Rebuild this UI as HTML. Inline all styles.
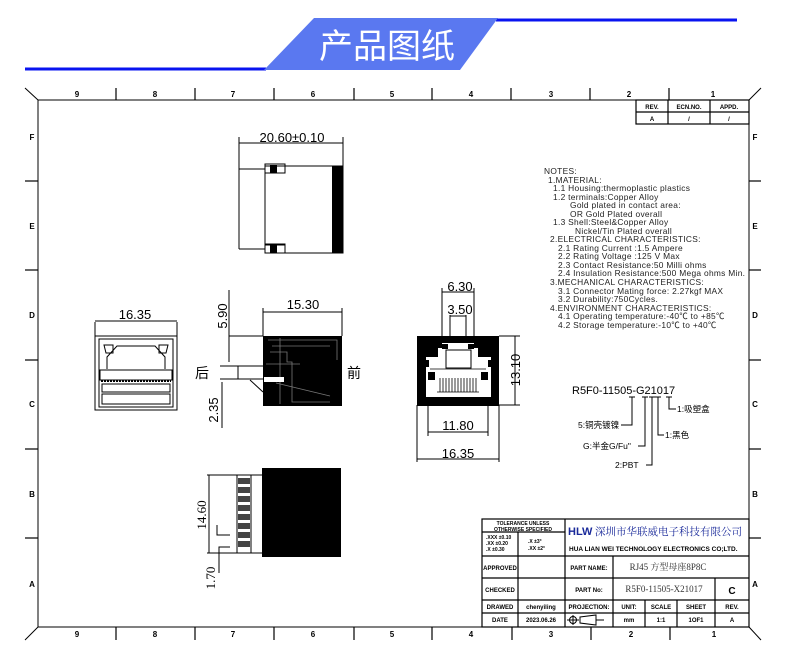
<!DOCTYPE html>
<html><head><meta charset="utf-8">
<style>
html,body{margin:0;padding:0;background:#fff;}
svg{display:block;}
text{font-family:"Liberation Sans","Noto Sans CJK SC",sans-serif;}
.t{font-family:"Liberation Sans",sans-serif;font-weight:bold;}
.cj{font-family:"Liberation Serif","Noto Serif CJK SC",serif;}
</style></head><body>
<svg width="790" height="663" viewBox="0 0 790 663" xmlns="http://www.w3.org/2000/svg">
<!-- header -->
<line x1="25" y1="69" x2="266" y2="69" stroke="#0a14f0" stroke-width="3"/>
<line x1="496" y1="20" x2="737" y2="20" stroke="#0a14f0" stroke-width="3"/>
<polygon points="314,18 498,18 460,70 264,70" fill="#5a78f0"/>
<text x="387" y="58" font-size="34" fill="#fff" text-anchor="middle" font-family="Noto Sans CJK SC,sans-serif">产品图纸</text>

<!-- frame -->
<g stroke="#000" fill="none" stroke-width="1">
<rect x="38" y="100" width="711" height="527"/>
<line x1="25" y1="88" x2="38" y2="100"/>
<line x1="761" y1="88" x2="749" y2="100"/>
<line x1="25" y1="640" x2="38" y2="627"/>
<line x1="761" y1="640" x2="749" y2="627"/>
</g>
<g stroke="#000" stroke-width="1.2">
<line x1="116" y1="88" x2="116" y2="100"/><line x1="195" y1="88" x2="195" y2="100"/>
<line x1="274" y1="88" x2="274" y2="100"/><line x1="354" y1="88" x2="354" y2="100"/>
<line x1="432" y1="88" x2="432" y2="100"/><line x1="511" y1="88" x2="511" y2="100"/>
<line x1="590" y1="88" x2="590" y2="100"/><line x1="669" y1="88" x2="669" y2="100"/>
<line x1="116" y1="627" x2="116" y2="640"/><line x1="195" y1="627" x2="195" y2="640"/>
<line x1="274" y1="627" x2="274" y2="640"/><line x1="354" y1="627" x2="354" y2="640"/>
<line x1="432" y1="627" x2="432" y2="640"/><line x1="512" y1="627" x2="512" y2="640"/>
<line x1="591" y1="627" x2="591" y2="640"/><line x1="670" y1="627" x2="670" y2="640"/>
<line x1="25" y1="181" x2="38" y2="181"/><line x1="25" y1="270" x2="38" y2="270"/>
<line x1="25" y1="360" x2="38" y2="360"/><line x1="25" y1="449" x2="38" y2="449"/>
<line x1="25" y1="538" x2="38" y2="538"/>
<line x1="749" y1="181" x2="761" y2="181"/><line x1="749" y1="270" x2="761" y2="270"/>
<line x1="749" y1="360" x2="761" y2="360"/><line x1="749" y1="449" x2="761" y2="449"/>
<line x1="749" y1="538" x2="761" y2="538"/>
</g>
<g class="t" font-size="8" text-anchor="middle">
<text x="77" y="97">9</text><text x="155" y="97">8</text><text x="233" y="97">7</text><text x="313" y="97">6</text><text x="392" y="97">5</text><text x="471" y="97">4</text><text x="551" y="97">3</text><text x="629" y="97">2</text><text x="713" y="97">1</text>
<text x="77" y="637">9</text><text x="155" y="637">8</text><text x="233" y="637">7</text><text x="313" y="637">6</text><text x="392" y="637">5</text><text x="471" y="637">4</text><text x="551" y="637">3</text><text x="631" y="637">2</text><text x="714" y="637">1</text>
<text x="32" y="140">F</text><text x="32" y="229">E</text><text x="32" y="318">D</text><text x="32" y="407">C</text><text x="32" y="497">B</text><text x="32" y="587">A</text>
<text x="755" y="140">F</text><text x="755" y="229">E</text><text x="755" y="318">D</text><text x="755" y="407">C</text><text x="755" y="497">B</text><text x="755" y="587">A</text>
</g>
<!-- rev table -->
<g stroke="#000" fill="none" stroke-width="1.2">
<rect x="636" y="100" width="113" height="24"/>
<line x1="636" y1="112" x2="749" y2="112"/>
<line x1="668" y1="100" x2="668" y2="124"/><line x1="710" y1="100" x2="710" y2="124"/>
</g>
<g class="t" font-size="6" text-anchor="middle">
<text x="652" y="109">REV.</text><text x="689" y="109">ECN.NO.</text><text x="729" y="109">APPD.</text>
<text x="652" y="121">A</text><text x="689" y="121">/</text><text x="729" y="121">/</text>
</g>

<!-- top view -->
<g stroke="#000" fill="none" stroke-width="1">
<line x1="239" y1="137" x2="239" y2="170"/><line x1="343" y1="137" x2="343" y2="166"/>
<line x1="239" y1="143" x2="343" y2="143"/>
<line x1="239" y1="169" x2="265" y2="169"/><line x1="239" y1="249" x2="265" y2="249"/>
<line x1="239" y1="169" x2="239" y2="249"/>
<rect x="265" y="166" width="78" height="87"/>
<line x1="265" y1="173" x2="285" y2="173"/><line x1="265" y1="245" x2="285" y2="245"/>
<rect x="265" y="164" width="20" height="9"/><rect x="265" y="244" width="20" height="9"/>
</g>
<rect x="332" y="166" width="11" height="87" fill="#000"/>
<rect x="270" y="165" width="7" height="8" fill="#000"/><rect x="270" y="245" width="7" height="8" fill="#000"/>
<text x="292" y="142" font-size="13" text-anchor="middle">20.60±0.10</text>

<!-- left view -->
<g stroke="#000" fill="none" stroke-width="1">
<line x1="95" y1="322" x2="95" y2="336"/><line x1="177" y1="322" x2="177" y2="336"/>
<line x1="95" y1="321" x2="177" y2="321"/>
<rect x="95" y="336" width="82" height="74"/>
<rect x="99" y="339" width="74" height="68"/>
<polygon points="104,345 113,345 113,353 106,353"/>
<polygon points="168,345 159,345 159,353 166,353"/>
<polyline points="107,369 107,357 117,346 155,346 165,357 165,369"/>
<rect x="100" y="370" width="72" height="10"/>
<line x1="101" y1="381" x2="171" y2="381" stroke-dasharray="2,1" stroke-width="2"/>
<rect x="102" y="384" width="68" height="8"/>
<rect x="102" y="394" width="68" height="10"/>
</g>
<text x="135" y="319" font-size="13" text-anchor="middle">16.35</text>

<!-- side view -->
<g stroke="#000" fill="none" stroke-width="1">
<line x1="263" y1="308" x2="263" y2="336"/><line x1="342" y1="308" x2="342" y2="336"/>
<line x1="263" y1="312" x2="342" y2="312"/>
<line x1="229" y1="290" x2="229" y2="362"/>
<line x1="229" y1="336" x2="263" y2="336"/>
<line x1="220" y1="366" x2="263" y2="366"/><line x1="220" y1="379" x2="263" y2="379"/>
<line x1="238" y1="366" x2="238" y2="379"/>
<line x1="222" y1="382" x2="222" y2="428"/>
<line x1="250" y1="380" x2="263" y2="392"/>
</g>
<rect x="263" y="336" width="79" height="70" fill="#000"/>
<g stroke="#777" fill="none" stroke-width="0.8">
<polyline points="268,340 337,340 337,360"/><polyline points="272,346 330,346"/>
<polyline points="270,352 287,352 287,362 292,362 292,402 330,402"/>
<polyline points="276,383 330,396"/><line x1="266" y1="364" x2="300" y2="364"/>
<line x1="280" y1="338" x2="280" y2="404"/>
</g>
<rect x="264" y="377" width="20" height="5" fill="#fff"/>
<text x="303" y="309" font-size="13" text-anchor="middle">15.30</text>
<text transform="translate(227,316) rotate(-90)" font-size="13" text-anchor="middle">5.90</text>
<text transform="translate(218,410) rotate(-90)" font-size="13" text-anchor="middle">2.35</text>
<text x="202" y="378" font-size="14" text-anchor="middle" font-family="Noto Sans CJK SC,sans-serif">后</text>
<text x="354" y="378" font-size="14" text-anchor="middle" font-family="Noto Sans CJK SC,sans-serif">前</text>

<!-- front view -->
<rect x="417" y="336" width="82" height="70" fill="#000"/>
<g stroke="#000" fill="none" stroke-width="1">
<line x1="442" y1="288" x2="442" y2="336"/><line x1="474" y1="288" x2="474" y2="336"/>
<line x1="442" y1="292" x2="474" y2="292"/>
<line x1="450" y1="315" x2="450" y2="340"/><line x1="466" y1="315" x2="466" y2="340"/>
<line x1="450" y1="316" x2="466" y2="316"/>
<line x1="499" y1="336" x2="520" y2="336"/><line x1="499" y1="405" x2="520" y2="405"/>
<line x1="515" y1="336" x2="515" y2="405"/>
<line x1="428" y1="405" x2="428" y2="436"/><line x1="488" y1="405" x2="488" y2="436"/>
<line x1="428" y1="432" x2="488" y2="432"/>
<line x1="417" y1="405" x2="417" y2="462"/><line x1="499" y1="405" x2="499" y2="462"/>
<line x1="417" y1="459" x2="499" y2="459"/>
</g>
<path d="M442 343 L474 343 L474 348 L478 348 L478 357 L491 357 L491 360 L488 360 L488 367 L491 367 L491 397 L426 397 L426 367 L429 367 L429 360 L426 360 L426 357 L438 357 L438 348 L442 348 Z" fill="#fff"/>
<rect x="446" y="350" width="25" height="18" fill="#fff" stroke="#000" stroke-width="1"/>
<rect x="442" y="344" width="6" height="5" fill="#000"/><rect x="468" y="344" width="6" height="5" fill="#000"/>
<rect x="428" y="372" width="7" height="8" fill="#000"/><rect x="481" y="372" width="7" height="8" fill="#000"/>
<g stroke="#000" stroke-width="0.8">
<line x1="440" y1="378" x2="440" y2="392"/><line x1="443" y1="378" x2="443" y2="392"/><line x1="446" y1="378" x2="446" y2="392"/><line x1="449" y1="378" x2="449" y2="392"/><line x1="452" y1="378" x2="452" y2="392"/><line x1="455" y1="378" x2="455" y2="392"/><line x1="458" y1="378" x2="458" y2="392"/><line x1="461" y1="378" x2="461" y2="392"/><line x1="464" y1="378" x2="464" y2="392"/><line x1="467" y1="378" x2="467" y2="392"/><line x1="470" y1="378" x2="470" y2="392"/><line x1="473" y1="378" x2="473" y2="392"/><line x1="476" y1="378" x2="476" y2="392"/>
<line x1="430" y1="369" x2="486" y2="369"/><line x1="437" y1="392" x2="479" y2="392"/>
</g>
<text x="460" y="291" font-size="13" text-anchor="middle">6.30</text>
<text x="460" y="314" font-size="13" text-anchor="middle">3.50</text>
<text transform="translate(520,370) rotate(-90)" font-size="13" text-anchor="middle">13.10</text>
<text x="458" y="430" font-size="13" text-anchor="middle">11.80</text>
<text x="458" y="458" font-size="13" text-anchor="middle">16.35</text>

<!-- bottom view -->
<rect x="262" y="468" width="79" height="89" fill="#000"/>
<g stroke="#000" fill="none" stroke-width="1">
<line x1="207" y1="475" x2="262" y2="475"/><line x1="207" y1="553" x2="262" y2="553"/>
<line x1="209" y1="475" x2="209" y2="553"/>
<rect x="237" y="475" width="14" height="78"/>
<polyline points="217,525 217,535 230,535"/>
<polyline points="219,573 219,547 230,547"/>
</g>
<g fill="#444">
<rect x="238" y="478" width="12" height="6"/><rect x="238" y="487" width="12" height="6"/><rect x="238" y="496" width="12" height="6"/><rect x="238" y="505" width="12" height="6"/><rect x="238" y="514" width="12" height="6"/><rect x="238" y="523" width="12" height="6"/><rect x="238" y="532" width="12" height="6"/><rect x="238" y="541" width="12" height="6"/>
</g>
<text transform="translate(206,515) rotate(-90)" font-size="13" text-anchor="middle" class="cj">14.60</text>
<text transform="translate(215,578) rotate(-90)" font-size="13" text-anchor="middle" class="cj">1.70</text>

<!-- notes -->
<g font-size="8.4" fill="#222" letter-spacing="0.3">
<text x="544" y="174">NOTES:</text>
<text x="548" y="183">1.MATERIAL:</text>
<text x="553" y="191">1.1  Housing:thermoplastic plastics</text>
<text x="553" y="200">1.2  terminals:Copper Alloy</text>
<text x="570" y="208">Gold plated in contact area:</text>
<text x="570" y="217">OR Gold   Plated overall</text>
<text x="553" y="225">1.3  Shell:Steel&amp;Copper Alloy</text>
<text x="575" y="234">Nickel/Tin Plated overall</text>
<text x="550" y="242">2.ELECTRICAL CHARACTERISTICS:</text>
<text x="558" y="251">2.1  Rating Current :1.5 Ampere</text>
<text x="558" y="259">2.2  Rating Voltage :125 V Max</text>
<text x="558" y="268">2.3  Contact Resistance:50 Milli ohms</text>
<text x="558" y="276">2.4  Insulation Resistance:500 Mega ohms Min.</text>
<text x="550" y="285">3.MECHANICAL CHARACTERISTICS:</text>
<text x="558" y="294">3.1  Connector Mating force: 2.27kgf MAX</text>
<text x="558" y="302">3.2  Durability:750Cycles.</text>
<text x="550" y="311">4.ENVIRONMENT CHARACTERISTICS:</text>
<text x="558" y="319">4.1  Operating temperature:-40℃  to +85℃</text>
<text x="558" y="328">4.2  Storage temperature:-10℃  to +40℃</text>
</g>

<!-- part code -->
<text x="572" y="394" font-size="11">R5F0-11505-G21017</text>
<g stroke="#000" fill="none" stroke-width="1">
<polyline points="632,397 632,425 621,425"/>
<polyline points="645,397 645,446 638,446"/>
<polyline points="652,397 652,465 646,465"/>
<polyline points="658,397 658,435 664,435"/>
<polyline points="669,397 669,409 676,409"/>
<line x1="629" y1="397" x2="635" y2="397"/><line x1="642" y1="397" x2="648" y2="397"/><line x1="649" y1="397" x2="655" y2="397"/><line x1="655" y1="397" x2="661" y2="397"/><line x1="666" y1="397" x2="672" y2="397"/>
</g>
<g font-size="8.5" class="cj">
<text x="677" y="412">1:吸塑盒</text>
<text x="578" y="428">5:铜壳镀镍</text>
<text x="665" y="438">1:黑色</text>
<text x="583" y="449">G:半金G/Fu"</text>
<text x="615" y="468">2:PBT</text>
</g>

<!-- title block -->
<g stroke="#000" fill="none" stroke-width="1.2">
<rect x="482" y="519" width="267" height="108"/>
<line x1="565" y1="519" x2="565" y2="627"/>
<line x1="482" y1="532" x2="565" y2="532"/>
<line x1="518" y1="532" x2="518" y2="627"/>
<line x1="482" y1="556" x2="749" y2="556"/>
<line x1="482" y1="578" x2="749" y2="578"/>
<line x1="482" y1="600" x2="749" y2="600"/>
<line x1="482" y1="613" x2="749" y2="613"/>
<line x1="613" y1="556" x2="613" y2="627"/>
<line x1="715" y1="578" x2="715" y2="627"/>
<line x1="645" y1="600" x2="645" y2="627"/>
<line x1="677" y1="600" x2="677" y2="627"/>
</g>
<g class="t" font-size="5" text-anchor="middle">
<text x="523" y="525">TOLERANCE UNLESS</text>
<text x="523" y="531">OTHERWISE SPECIFIED</text>
</g>
<g class="t" font-size="5">
<text x="486" y="539">.XXX ±0.10</text><text x="486" y="545">.XX  ±0.20</text><text x="486" y="551">.X   ±0.30</text>
<text x="528" y="543">.X    ±3°</text><text x="528" y="550">.XX   ±2°</text>
</g>
<text x="568" y="535" font-size="11" font-weight="bold" fill="#1a2a9a" font-family="Liberation Sans,sans-serif">HLW</text>
<text x="595" y="535" font-size="10.5" fill="#1a2a9a" class="cj">深圳市华联威电子科技有限公司</text>
<text x="569" y="551" class="t" font-size="6.5">HUA LIAN WEI TECHNOLOGY ELECTRONICS CO;LTD.</text>
<g class="t" font-size="6" text-anchor="middle">
<text x="500" y="570">APPROVED</text><text x="589" y="570">PART NAME:</text>
<text x="500" y="592">CHECKED</text><text x="589" y="592">PART No:</text>
<text x="500" y="609">DRAWED</text><text x="541" y="609">chenyiling</text><text x="589" y="609">PROJECTION:</text>
<text x="629" y="609">UNIT:</text><text x="661" y="609">SCALE</text><text x="696" y="609">SHEET</text><text x="732" y="609">REV.</text>
<text x="500" y="622">DATE</text><text x="541" y="622">2023.06.26</text>
<text x="629" y="622">mm</text><text x="661" y="622">1:1</text><text x="696" y="622">1OF1</text><text x="732" y="622">A</text>
</g>
<text x="668" y="570" font-size="9" text-anchor="middle" class="cj" fill="#333">RJ45 方型母座8P8C</text>
<text x="664" y="592" font-size="9" text-anchor="middle" class="cj" fill="#333">R5F0-11505-X21017</text>
<text x="732" y="594" font-size="10" text-anchor="middle" class="t">C</text>
<g stroke="#000" fill="none" stroke-width="1">
<circle cx="573" cy="620" r="3.5"/><line x1="567" y1="620" x2="579" y2="620"/><line x1="573" y1="615" x2="573" y2="625"/>
<polygon points="580,617 596,615 596,625 580,623"/><line x1="596" y1="620" x2="604" y2="620"/>
</g>
</svg>
</body></html>
